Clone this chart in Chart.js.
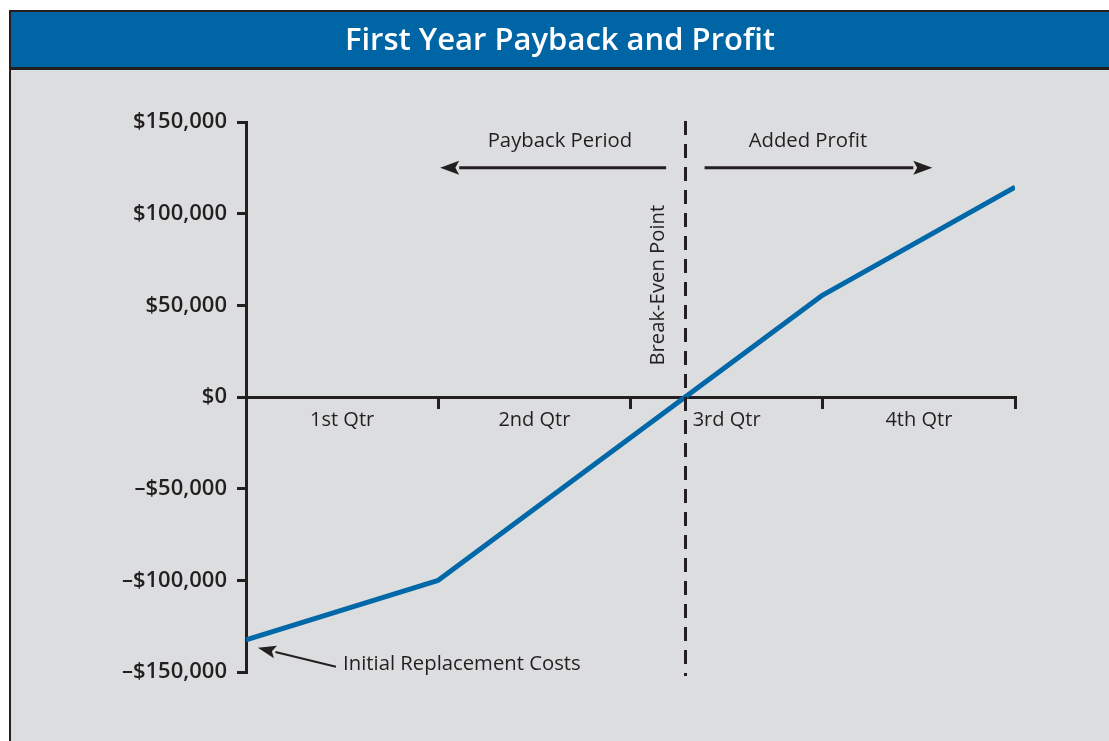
<!DOCTYPE html>
<html><head><meta charset="utf-8">
<script src="https://cdn.jsdelivr.net/npm/chart.js@4.4.1/dist/chart.umd.min.js"></script>
<style>html,body{margin:0;padding:0;background:#fff;} canvas{display:block;}</style>
</head><body>
<canvas id="c" width="1109" height="741"></canvas>
<script>
// ---- data ----
const chartTitle = 'First Year Payback and Profit';
const quarters = ['1st Qtr', '2nd Qtr', '3rd Qtr', '4th Qtr'];
const quarterPositions = [0, 1, 3, 4];               // position along the year, in quarters
const cumulativeProfit = [-132500, -100000, 55600, 114500];
const yTickValues = [150000, 100000, 50000, 0, -50000, -100000, -150000];
const yTickLabels = ['$150,000', '$100,000', '$50,000', '$0', '–$50,000', '–$100,000', '–$150,000'];
const paybackLabel = 'Payback Period';
const profitLabel = 'Added Profit';
const breakEvenLabel = 'Break-Even Point';
const initialLabel = 'Initial Replacement Costs';

// ---- styles ----
const INK = '#231F20';
const BLUE = '#0065A4';
const LINE_BLUE = '#0067A8';
const GREY = '#DCDDDF';
const FONT = "'Open Sans', 'Noto Sans', sans-serif";

// break-even point: zero crossing of the series
function breakEvenQuarter() {
  for (let i = 1; i < cumulativeProfit.length; i++) {
    const a = cumulativeProfit[i - 1], b = cumulativeProfit[i];
    if (a <= 0 && b >= 0) {
      const x0 = quarterPositions[i - 1], x1 = quarterPositions[i];
      return x0 + (x1 - x0) * (-a) / (b - a);
    }
  }
  return 2;
}

const framePlugin = {
  id: 'frame',
  beforeDraw(chart) {
    const ctx = chart.ctx;
    ctx.save();
    ctx.fillStyle = '#fff';
    ctx.fillRect(0, 0, chart.width, chart.height);
    ctx.fillStyle = INK;
    ctx.fillRect(9, 10, chart.width, chart.height);
    ctx.fillStyle = GREY;
    ctx.fillRect(11, 70, chart.width, chart.height);
    ctx.fillStyle = BLUE;
    ctx.fillRect(11, 12, chart.width, 55);
    ctx.fillStyle = '#fff';
    ctx.font = '600 31px ' + FONT;
    ctx.textAlign = 'center';
    ctx.textBaseline = 'middle';
    ctx.fillText(chartTitle, 560, 41);
    ctx.restore();
  }
};

function arrow(ctx, x1, y1, x2, y2, lw, headLen, headHalf) {
  const ang = Math.atan2(y2 - y1, x2 - x1);
  const bx = x2 - headLen * Math.cos(ang), by = y2 - headLen * Math.sin(ang);
  ctx.lineWidth = lw;
  ctx.beginPath();
  ctx.moveTo(x1, y1);
  ctx.lineTo(bx, by);
  ctx.stroke();
  ctx.beginPath();
  ctx.moveTo(x2, y2);
  ctx.lineTo(bx + headHalf * Math.sin(ang), by - headHalf * Math.cos(ang));
  ctx.lineTo(bx + headLen * 0.2 * Math.cos(ang), by + headLen * 0.2 * Math.sin(ang));
  ctx.lineTo(bx - headHalf * Math.sin(ang), by + headHalf * Math.cos(ang));
  ctx.closePath();
  ctx.fill();
}

const annotationPlugin = {
  id: 'annotations',
  afterDraw(chart) {
    const ctx = chart.ctx;
    const xs = chart.scales.x, ys = chart.scales.y;
    const X = v => xs.getPixelForValue(v), Y = v => ys.getPixelForValue(v);
    const be = breakEvenQuarter();
    ctx.save();
    ctx.strokeStyle = INK;
    ctx.fillStyle = INK;
    // dashed break-even line
    ctx.setLineDash([14, 9]);
    ctx.lineWidth = 3;
    ctx.beginPath();
    ctx.moveTo(Math.round(X(be)) + 0.5, chart.chartArea.top - 1);
    ctx.lineTo(Math.round(X(be)) + 0.5, chart.chartArea.bottom + 4);
    ctx.stroke();
    ctx.setLineDash([]);
    // arrows
    arrow(ctx, X(be - 0.1), Y(125000), X(1.01), Y(125000), 3, 19, 7);
    arrow(ctx, X(be + 0.1), Y(125000), X(3.57), Y(125000), 3, 19, 7);
    arrow(ctx, X(0.468), Y(-147100), X(0.062), Y(-136800), 2, 18, 6.5);
    // texts
    ctx.font = '20.3px ' + FONT;
    ctx.textBaseline = 'middle';
    ctx.textAlign = 'center';
    ctx.fillText(paybackLabel, X(1.633), Y(139500));
    ctx.fillText(profitLabel, X(2.923), Y(139500));
    ctx.textAlign = 'left';
    ctx.fillText(initialLabel, X(0.505), Y(-146000));
    ctx.save();
    ctx.translate(X(2.143), Y(61000));
    ctx.rotate(-Math.PI / 2);
    ctx.textAlign = 'center';
    ctx.fillText(breakEvenLabel, 0, 0);
    ctx.restore();
    ctx.restore();
  }
};

new Chart(document.getElementById('c'), {
  type: 'line',
  data: {
    datasets: [{
      data: quarterPositions.map((x, i) => ({ x: x, y: cumulativeProfit[i] })),
      borderColor: LINE_BLUE,
      borderWidth: 5,
      pointRadius: 0,
      tension: 0,
      fill: false,
      borderCapStyle: 'butt',
      borderJoinStyle: 'round',
      xAxisID: 'x',
      yAxisID: 'y'
    }]
  },
  options: {
    responsive: false,
    animation: false,
    devicePixelRatio: 1,
    layout: { padding: { left: 10, right: 94, top: 122, bottom: 69 } },
    plugins: { legend: { display: false }, tooltip: { enabled: false }, title: { display: false } },
    scales: {
      x: { type: 'linear', min: 0, max: 4, display: false },
      xq: {
        type: 'category',
        axis: 'x',
        labels: quarters,
        offset: true,
        position: { y: 0 },
        grid: { offset: true, drawOnChartArea: false, drawTicks: true, tickLength: 10, lineWidth: 3, color: INK },
        border: { display: true, width: 3, color: INK },
        ticks: { color: INK, font: { family: FONT, size: 20 }, padding: 1, maxRotation: 0 }
      },
      y: {
        type: 'linear',
        position: 'left',
        min: -150000,
        max: 150000,
        afterBuildTicks: s => { s.ticks = yTickValues.map(v => ({ value: v })); },
        afterFit: s => { s.width = 236; },
        grid: { drawOnChartArea: false, drawTicks: true, tickLength: 9, lineWidth: 3, color: INK },
        border: { display: true, width: 3, color: INK },
        ticks: {
          color: INK,
          padding: 10,
          font: { family: FONT, size: 22, weight: '600' },
          callback: v => yTickLabels[yTickValues.indexOf(v)]
        }
      }
    }
  },
  plugins: [framePlugin, annotationPlugin]
});
</script>
</body></html>
